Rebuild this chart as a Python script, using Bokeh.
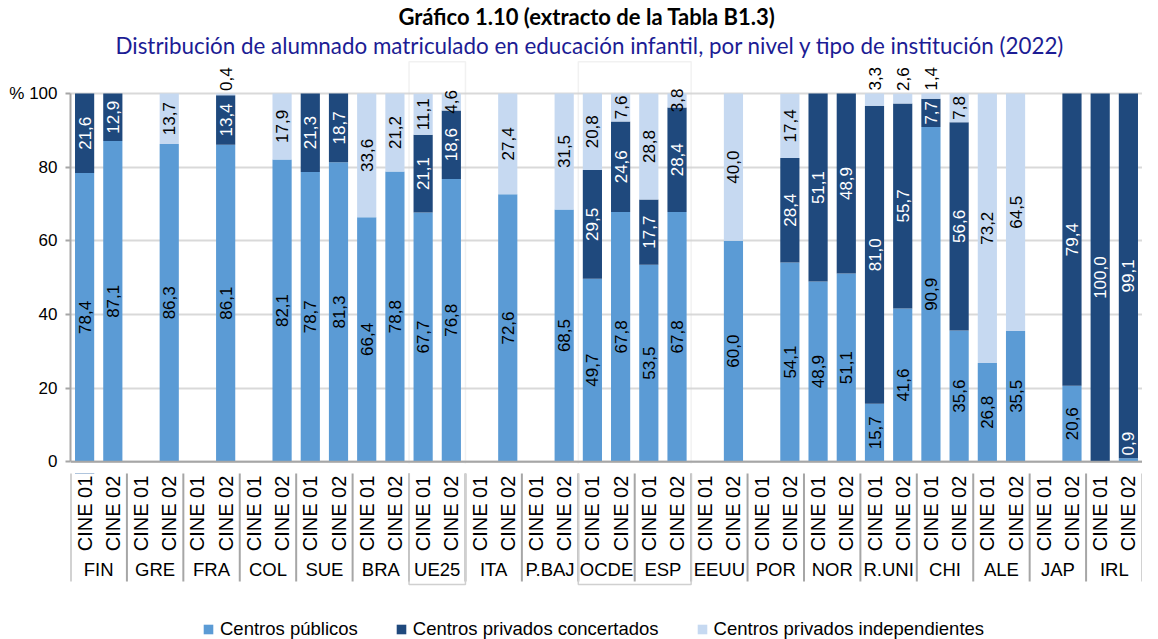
import math
from bokeh.plotting import figure
from bokeh.layouts import column
from bokeh.models import (FactorRange, ColumnDataSource, FixedTicker, Title, Legend,
                          LegendItem, BoxAnnotation, Span, Range1d)
from bokeh.core.properties import value
from bokeh.embed import file_html
from bokeh.resources import INLINE

countries = ["FIN", "GRE", "FRA", "COL", "SUE", "BRA", "UE25", "ITA", "P.BAJ", "OCDE",
             "ESP", "EEUU", "POR", "NOR", "R.UNI", "CHI", "ALE", "JAP", "IRL"]
levels = ["CINE 01", "CINE 02"]

publicos = [78.4, 87.1, 0, 86.3, 0, 86.1, 0, 82.1, 78.7, 81.3, 66.4, 78.8, 67.7, 76.8,
            0, 72.6, 0, 68.5, 49.7, 67.8, 53.5, 67.8, 0, 60.0, 0, 54.1, 48.9, 51.1,
            15.7, 41.6, 90.9, 35.6, 26.8, 35.5, 0, 20.6, 0, 0.9]
concertados = [21.6, 12.9, 0, 0, 0, 13.4, 0, 0, 21.3, 18.7, 0, 0, 21.1, 18.6,
               0, 0, 0, 0, 29.5, 24.6, 17.7, 28.4, 0, 0, 0, 28.4, 51.1, 48.9,
               81.0, 55.7, 7.7, 56.6, 0, 0, 0, 79.4, 100.0, 99.1]
independientes = [0, 0, 0, 13.7, 0, 0.4, 0, 17.9, 0, 0, 33.6, 21.2, 11.1, 4.6,
                  0, 27.4, 0, 31.5, 20.8, 7.6, 28.8, 3.8, 0, 40.0, 0, 17.4, 0, 0,
                  3.3, 2.6, 1.4, 7.8, 73.2, 64.5, 0, 0, 0, 0]
highlighted = [["UE25"], ["OCDE", "ESP"]]

series_names = ["Centros públicos", "Centros privados concertados", "Centros privados independientes"]
colors = ["#5B9BD5", "#1F497D", "#C6D9F1"]
label_colors = ["black", "white", "black"]
FONT = "Liberation Sans"

factors = [(c, l) for c in countries for l in levels]
nlev = len(levels)

src = ColumnDataSource(dict(x=factors, pub=publicos, conc=concertados, ind=independientes))

xr = FactorRange(factors=factors, factor_padding=0, subgroup_padding=0, group_padding=0,
                 range_padding=0)

# ---------------- main chart ----------------
p = figure(x_range=xr, y_range=(-0.5, 109.5), frame_width=1072, frame_height=405,
           output_backend="svg", toolbar_location=None, title=None,
           min_border_left=70, min_border_right=0, min_border_top=0, min_border_bottom=10)
p.background_fill_color = "white"
p.border_fill_color = "white"
p.outline_line_color = None

renderers = p.vbar_stack(["pub", "conc", "ind"], x="x", width=0.68, color=colors,
                         line_color=None, source=src)

stacks = [publicos, concertados, independientes]
lx, ly, lt, lc = [], [], [], []
for i, f in enumerate(factors):
    vals = [s[i] for s in stacks]
    bottoms = [sum(vals[:k]) for k in range(3)]
    for k in range(3):
        v = vals[k]
        if v <= 0:
            continue
        b = bottoms[k]
        if v >= 3.5:
            y = b + v / 2
            col = label_colors[k]
        else:
            y = b + v + 4
            col = "black"
            for j in range(3):
                if vals[j] > 0 and bottoms[j] <= y <= bottoms[j] + vals[j] and j != k:
                    col = "white" if j == 1 else "black"
        lx.append(f)
        ly.append(y)
        lt.append(f"{v:.1f}".replace(".", ","))
        lc.append(col)

lsrc = ColumnDataSource(dict(x=lx, y=ly, t=lt, c=lc))
p.text(x="x", y="y", text="t", text_color="c", angle=math.pi / 2, text_align="center",
       text_baseline="middle", text_font=value(FONT), text_font_size="17px", source=lsrc)

box_spans = []
for grp in highlighted:
    i0 = countries.index(grp[0]) * nlev
    i1 = (countries.index(grp[-1]) + 1) * nlev
    box_spans.append((i0, i1))
    p.add_layout(BoxAnnotation(left=i0, right=i1, bottom=-5, top=108.6,
                               fill_alpha=0, fill_color=None, line_color="#D0D0D0",
                               line_width=1.5))

p.add_layout(Span(location=0, dimension="width", line_color="#A6A6A6", line_width=2))

p.yaxis.ticker = FixedTicker(ticks=[0, 20, 40, 60, 80, 100])
p.yaxis.bounds = (0, 100)
p.yaxis.major_label_overrides = {100: "% 100"}
p.yaxis.axis_line_color = "#A6A6A6"
p.yaxis.axis_line_width = 2
p.yaxis.major_tick_line_color = "#A6A6A6"
p.yaxis.major_tick_line_width = 2
p.yaxis.major_tick_out = 5
p.yaxis.major_tick_in = 0
p.yaxis.minor_tick_line_color = None
p.yaxis.major_label_text_font = FONT
p.yaxis.major_label_text_font_size = "17px"
p.yaxis.major_label_text_color = "black"
p.yaxis.major_label_standoff = 8
p.xaxis.visible = False

p.xgrid.visible = False
p.ygrid.grid_line_color = "#D9D9D9"
p.ygrid.grid_line_width = 2

p.add_layout(Title(text="Distribución de alumnado matriculado en educación infantil, por nivel y tipo de institución (2022)",
                   align="left", offset=45, text_font="Lato", text_font_size="22.4px",
                   text_font_style="normal", text_color="#1c1c94", standoff=0), "above")
p.add_layout(Title(text="Gráfico 1.10 (extracto de la Tabla B1.3)", align="left", offset=328,
                   text_font="Lato", text_font_size="22px", text_font_style="bold",
                   text_color="black", standoff=0), "above")

# ---------------- category axis + legend strip ----------------
# y in pixels below the chart's zero line
p2 = figure(x_range=xr, y_range=Range1d(178, 10), frame_width=1072, frame_height=168,
            output_backend="svg", toolbar_location=None, title=None,
            min_border_left=70, min_border_right=0, min_border_top=0, min_border_bottom=0)
p2.background_fill_color = "white"
p2.border_fill_color = "white"
p2.outline_line_color = None
p2.axis.visible = False
p2.grid.visible = False

# CINE labels
p2.text(x=factors, y=[50] * len(factors), text=[l for _, l in factors], angle=math.pi / 2,
        text_align="center", text_baseline="middle", text_color="black",
        text_font=value(FONT), text_font_size="20px")
# country labels
p2.text(x=countries, y=[106] * len(countries), text=countries, text_align="center",
        text_baseline="middle", text_color="black", text_font=value(FONT),
        text_font_size="18.5px")
# group separators
seps = [g * nlev for g in range(len(countries) + 1)]
p2.segment(x0=seps, y0=[0] * len(seps), x1=seps, y1=[118] * len(seps),
           line_color="#A6A6A6", line_width=2)
# lower part of highlight boxes
p2.quad(left=[a for a, b in box_spans], right=[b for a, b in box_spans],
        top=[0] * len(box_spans), bottom=[121] * len(box_spans),
        fill_color=None, line_color="#D0D0D0", line_width=1.5)

# legend (proxy renderers, a zero-height bar far outside the visible strip)
leg_r = [p2.vbar(x=[factors[0]], top=[-1000], bottom=[-1000], width=0.68, color=c,
                 line_color=None) for c in colors]
legend = Legend(items=[LegendItem(label=n, renderers=[r]) for n, r in zip(series_names, leg_r)],
                orientation="horizontal", location=(132, 1), border_line_color=None,
                background_fill_alpha=0, label_text_font=FONT, label_text_color="black",
                label_text_font_size="18.5px", glyph_width=12, glyph_height=12,
                label_standoff=6, spacing=37, padding=0, margin=0)
p2.add_layout(legend, "center")

layout = column(p, p2, spacing=0)
open("out.html", "w").write(file_html(layout, INLINE))
